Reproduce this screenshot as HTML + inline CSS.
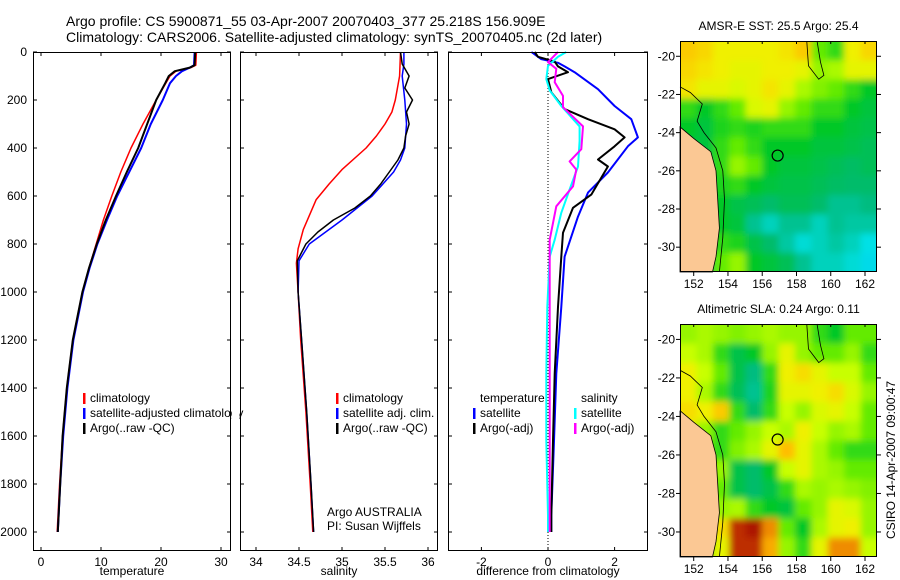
<!DOCTYPE html>
<html><head><meta charset="utf-8">
<style>
body{margin:0;background:#fff;}
svg{display:block;font-family:"Liberation Sans",sans-serif;}
text{font-size:12px;fill:#000;}
</style></head>
<body>
<svg id="fig" width="900" height="580" viewBox="0 0 900 580" xmlns="http://www.w3.org/2000/svg">
<defs>
<filter id="blur" x="-5%" y="-5%" width="110%" height="110%"><feGaussianBlur stdDeviation="3.5"/></filter>
<clipPath id="clipTop"><rect x="680" y="41" width="197" height="231"/></clipPath>
<clipPath id="clipBot"><rect x="680" y="324" width="197" height="233"/></clipPath>
</defs>
<rect width="900" height="580" fill="#fff"/>
<text x="66" y="26" style="font-size:14px">Argo profile: CS 5900871_55 03-Apr-2007 20070403_377 25.218S 156.909E</text>
<text x="66" y="42" style="font-size:14px">Climatology: CARS2006. Satellite-adjusted climatology: synTS_20070405.nc (2d later)</text>
<g id="g"></g>
</svg>
<script>
// ---------- data ----------
const depthTicks=[0,200,400,600,800,1000,1200,1400,1600,1800,2000];
const tempTicks=[0,10,20,30];
const salTicks=[34,34.5,35,35.5,36];
const diffTicks=[-2,0,2];
const tempClimD=[0,55,65,80,100,130,200,300,400,500,600,700,800,900,1000,1200,1400,1600,1800,2000];
const tempClim=[25.9,25.8,25.0,22.5,21.5,20.8,19.2,17.0,15.0,13.3,11.8,10.4,9.2,8.0,6.9,5.3,4.3,3.6,3.1,2.7];
const tempSatD=[0,55,65,80,100,130,200,300,400,500,600,700,800,900,1000,1200,1400,1600,1800,2000];
const tempSat=[25.6,25.5,24.8,23.5,22.5,21.5,20.3,18.3,16.7,14.7,12.7,11.0,9.4,8.1,7.0,5.4,4.4,3.7,3.2,2.8];
const tempArgoD=[0,55,65,80,100,130,200,300,400,500,600,700,800,900,1000,1200,1400,1600,1800,2000];
const tempArgo=[25.7,25.6,24.8,22.3,21.3,20.7,19.2,17.7,16.2,14.3,12.5,10.8,9.3,8.0,6.9,5.3,4.3,3.6,3.2,2.8];
const salClimD=[0,100,200,250,300,350,400,490,550,615,740,820,880,1000,1200,1500,1800,2000];
const salClim=[35.68,35.67,35.62,35.58,35.5,35.4,35.28,35.0,34.85,34.7,34.55,34.49,34.47,34.49,34.52,34.58,34.63,34.66];
const salSatD=[0,50,100,200,300,400,450,500,600,700,800,870,1000,1200,1500,1800,2000];
const salSat=[35.72,35.72,35.7,35.73,35.75,35.73,35.68,35.6,35.35,35.0,34.62,34.5,34.49,34.53,34.59,34.64,34.67];
const salArgoD=[0,50,100,150,200,250,300,350,400,450,500,550,600,650,700,750,800,870,1000,1200,1500,1800,2000];
const salArgo=[35.68,35.7,35.78,35.73,35.82,35.75,35.78,35.74,35.72,35.65,35.55,35.45,35.33,35.15,34.9,34.72,34.58,34.48,34.49,34.53,34.59,34.64,34.67];
const dTempSatD=[0,30,45,60,84,155,225,280,356,393,502,586,686,853,1062,1340,1620,1930,2000];
const dTempSat=[-0.5,-0.2,0.3,0.5,0.8,1.5,2.0,2.5,2.7,2.4,1.8,1.2,0.9,0.5,0.4,0.25,0.18,0.1,0.1];
const dTempArgoD=[0,20,40,60,84,113,168,238,280,322,356,393,448,477,594,649,753,853,1062,1340,1620,1930,2000];
const dTempArgo=[-0.4,-0.3,0.2,0.3,0.6,0.0,0.1,0.5,1.2,2.0,2.3,2.0,1.5,1.8,1.3,0.75,0.45,0.4,0.3,0.2,0.15,0.1,0.1];
const dSalSatD=[0,20,58,113,160,225,310,370,477,573,670,782,853,1062,1340,1620,1930,2000];
const dSalSat=[0.55,0.3,0.0,-0.05,0.05,0.4,0.95,0.95,0.9,0.65,0.4,0.2,0.05,-0.02,-0.05,-0.05,0.0,0.0];
const dSalArgoD=[0,42,70,126,183,230,310,405,456,490,560,643,782,1062,1340,1620,1930,2000];
const dSalArgo=[0.3,0.0,0.25,0.2,0.45,0.45,1.05,1.0,0.65,0.85,0.75,0.25,0.05,0.05,0.05,0.05,0.05,0.05];
const lonTicks=[152,154,156,158,160,162];
const latTicks=[-20,-22,-24,-26,-28,-30];
const sstGrid=[
[.78,.76,.72,.72,.72,.72,.74,.78,.55,.5,.72,.76],
[.76,.74,.72,.70,.70,.72,.72,.70,.6,.62,.70,.70],
[.74,.70,.70,.68,.70,.74,.70,.62,.58,.55,.5,.45],
[.5,.45,.5,.55,.68,.7,.6,.55,.5,.5,.45,.42],
[.45,.42,.48,.5,.48,.5,.5,.5,.45,.45,.42,.4],
[.42,.42,.5,.55,.5,.45,.45,.45,.42,.42,.4,.38],
[.4,.4,.5,.6,.55,.45,.42,.42,.4,.38,.36,.38],
[.4,.4,.48,.5,.45,.42,.4,.4,.38,.36,.35,.35],
[.4,.4,.45,.4,.38,.35,.38,.38,.35,.3,.3,.32],
[.38,.4,.45,.42,.3,.25,.3,.3,.25,.3,.28,.28],
[.38,.4,.5,.48,.4,.35,.28,.22,.25,.28,.25,.2],
[.38,.4,.55,.6,.45,.42,.38,.3,.25,.25,.22,.18]];
const slaGrid=[
[.6,.62,.6,.58,.6,.62,.6,.6,.5,.45,.55,.55],
[.65,.62,.5,.4,.45,.6,.7,.6,.55,.55,.6,.5],
[.72,.65,.55,.4,.32,.5,.72,.75,.7,.65,.65,.55],
[.72,.62,.5,.38,.3,.48,.7,.7,.72,.75,.68,.6],
[.75,.72,.78,.5,.35,.5,.65,.6,.68,.7,.65,.55],
[.7,.6,.5,.55,.6,.65,.62,.72,.65,.6,.62,.55],
[.65,.55,.5,.58,.62,.7,.8,.7,.62,.55,.5,.5],
[.6,.55,.6,.4,.35,.45,.65,.7,.62,.6,.55,.55],
[.6,.58,.55,.4,.35,.4,.5,.62,.6,.62,.6,.58],
[.6,.6,.6,.62,.5,.45,.42,.55,.6,.7,.68,.6],
[.55,.6,.75,.95,.98,.85,.55,.45,.62,.7,.72,.6],
[.5,.55,.7,.95,.95,.82,.6,.5,.7,.85,.85,.65]];
const coastLon=[151.2,152.0,153.0,153.3,153.4,153.5,153.3,153.1];
const coastLat=[-23.7,-24.3,-25.0,-26.0,-27.5,-29.0,-30.5,-31.3];
const floatLon=156.9, floatLat=-25.2;

// ---------- drawing ----------
const NS="http://www.w3.org/2000/svg";
const G=document.getElementById('g');
function mk(tag,attrs,parent){const e=document.createElementNS(NS,tag);for(const k in attrs)e.setAttribute(k,attrs[k]);(parent||G).appendChild(e);return e;}
const TOP=52,BOT=551;
const yD=d=>TOP+d*0.24;
const panels=[
 {x0:33,x1:231,sx:v=>41+6*v,ticks:tempTicks,title:'temperature',name:'temperature-panel'},
 {x0:240,x1:438,sx:v=>256+86*(v-34),ticks:salTicks,title:'salinity',name:'salinity-panel'},
 {x0:448,x1:648,sx:v=>548+33.3*v,ticks:diffTicks,title:'difference from climatology',name:'difference-panel'}];
function line(p,ds,vs,color,w,name){
  const pts=ds.map((d,i)=>p.sx(vs[i]).toFixed(1)+','+yD(d).toFixed(1)).join(' ');
  const e=mk('polyline',{points:pts,fill:'none',stroke:color,'stroke-width':w,'stroke-linejoin':'round'});
  
  
}
panels.forEach((p,pi)=>{
  const r=mk('rect',{x:p.x0,y:TOP,width:p.x1-p.x0,height:BOT-TOP,fill:'#fff',stroke:'none'});
  
  
  if(pi===2){const z=mk('line',{x1:p.sx(0),x2:p.sx(0),y1:TOP,y2:BOT,stroke:'#000','stroke-dasharray':'1,2','stroke-width':1});
    
    }
  if(pi===0){
    line(p,tempClimD,tempClim,'#f00',1.5,'temp-climatology-line');
    line(p,tempSatD,tempSat,'#00f',2,'temp-satellite-line');
    line(p,tempArgoD,tempArgo,'#000',2,'temp-argo-line');
  } else if(pi===1){
    line(p,salClimD,salClim,'#f00',1.5,'sal-climatology-line');
    line(p,salSatD,salSat,'#00f',1.5,'sal-satellite-line');
    line(p,salArgoD,salArgo,'#000',1.5,'sal-argo-line');
  } else {
    line(p,dTempSatD,dTempSat,'#00f',2,'diff-temp-satellite-line');
    line(p,dTempArgoD,dTempArgo,'#000',2,'diff-temp-argo-line');
    line(p,dSalSatD,dSalSat,'#0ff',2,'diff-sal-satellite-line');
    line(p,dSalArgoD,dSalArgo,'#f0f',2,'diff-sal-argo-line');
  }
  p.ticks.forEach(t=>{const x=p.sx(t);
    mk('line',{x1:x,x2:x,y1:BOT,y2:BOT-4,stroke:'#000'});
    mk('line',{x1:x,x2:x,y1:TOP,y2:TOP+4,stroke:'#000'});
    const tx=mk('text',{x:x,y:BOT+15,'text-anchor':'middle'});tx.textContent=t;
    
    
  });
  depthTicks.forEach(d=>{const y=yD(d);
    mk('line',{x1:p.x0,x2:p.x0+4,y1:y,y2:y,stroke:'#000'});
    mk('line',{x1:p.x1,x2:p.x1-4,y1:y,y2:y,stroke:'#000'});
    if(pi===0){const tx=mk('text',{x:27,y:y+4,'text-anchor':'end'});tx.textContent=d;
      
      }
  });
  const fr=mk('rect',{x:p.x0+0.5,y:TOP+0.5,width:p.x1-p.x0-1,height:BOT-TOP-1,fill:'none',stroke:'#000'});
  
  
  const at=mk('text',{x:(p.x0+p.x1)/2,y:575,'text-anchor':'middle'});at.textContent=p.title;
  
  
});
function legend(x,y,items,name){
  items.forEach((it,i)=>{const yy=y+i*15;
    if(it[1])mk('rect',{x:x,y:yy-9,width:2.5,height:11,fill:it[1]});
    const t=mk('text',{x:x+7,y:yy});t.textContent=it[0];
    
    
  });
}
legend(83,402,[['climatology','#f00'],['satellite-adjusted climatology','#00f'],['Argo(..raw -QC)','#000']],'temp-legend');
legend(336,402,[['climatology','#f00'],['satellite adj. clim.','#00f'],['Argo(..raw -QC)','#000']],'sal-legend');
legend(473,402,[['temperature',null],['satellite','#00f'],['Argo(-adj)','#000']],'diff-temp-legend');
legend(574,402,[['salinity',null],['satellite','#0ff'],['Argo(-adj)','#f0f']],'diff-sal-legend');
mk('rect',{x:232,y:390,width:7.5,height:45,fill:'#fff'});
mk('line',{x1:240.5,x2:240.5,y1:390,y2:435,stroke:'#000'});
const a1=mk('text',{x:327,y:516});a1.textContent='Argo AUSTRALIA';


const a2=mk('text',{x:327,y:530});a2.textContent='PI: Susan Wijffels';



// ---------- maps ----------
const stops=[[0,[0,150,255]],[0.2,[0,225,230]],[0.33,[0,185,120]],[0.45,[0,200,40]],[0.55,[100,235,0]],[0.65,[200,255,0]],[0.72,[240,240,0]],[0.8,[255,190,0]],[0.88,[230,110,0]],[1,[160,0,0]]];
function cmap(v){for(let i=1;i<stops.length;i++){if(v<=stops[i][0]){const a=stops[i-1],b=stops[i];const f=(v-a[0])/(b[0]-a[0]);
  return 'rgb('+a[1].map((c,k)=>Math.round(c+(b[1][k]-c)*f)).join(',')+')';}}return 'rgb(160,0,0)';}
const LON0=151.2,LON1=162.7,LAT0=-19.2,LAT1=-31.3;
function map(top,bottom,grid,title,name,clip){
  const x0=680,x1=877;
  const lx=l=>x0+(l-LON0)/(LON1-LON0)*(x1-x0);
  const ly=l=>top+(LAT0-l)/(LAT0-LAT1)*(bottom-top);
  const rows=grid.length,cols=grid[0].length;
  const cw=(x1-x0)/cols,ch=(bottom-top)/rows;
  const cg=mk('g',{'clip-path':'url(#'+clip+')'});
  const bg=mk('g',{filter:'url(#blur)'},cg);
  grid.forEach((row,r)=>row.forEach((v,c)=>{
    let x=x0+c*cw,y=top+r*ch,w=cw+0.6,h=ch+0.6;
    if(c===0){x-=8;w+=8;} if(c===cols-1){w+=8;}
    if(r===0){y-=8;h+=8;} if(r===rows-1){h+=8;}
    const e=mk('rect',{x:x.toFixed(2),y:y.toFixed(2),width:w.toFixed(2),height:h.toFixed(2),fill:cmap(v)},bg);
    
    
  }));
  let d='M'+x0+','+ly(coastLat[0]);
  coastLon.forEach((l,i)=>{d+=' L'+lx(l).toFixed(1)+','+ly(coastLat[i]).toFixed(1);});
  d+=' L'+x0+','+bottom+' Z';
  const land=mk('path',{d:d,fill:'#fbc894',stroke:'#000','stroke-width':0.8});
  
  
  let d2='M'+x0+','+ly(-21.6);
  const offLon=[151.8,152.5,152.2,152.6,153.3,153.7,153.8,153.7,153.5];
  const offLat=[-21.9,-22.5,-23.4,-24.0,-24.8,-26.0,-27.5,-29.5,-31.3];
  offLon.forEach((l,i)=>{d2+=' L'+lx(l).toFixed(1)+','+ly(offLat[i]).toFixed(1);});
  const iso=mk('path',{d:d2,fill:'none',stroke:'#000','stroke-width':0.8});
  
  
  const reef=mk('path',{d:'M'+lx(158.6)+','+top+' L'+lx(158.7)+','+ly(-20.5)+' L'+lx(159.3)+','+ly(-21.2)+' L'+lx(159.6)+','+ly(-21.0)+' L'+lx(159.4)+','+ly(-20.3)+' L'+lx(159.2)+','+top,fill:'none',stroke:'#000','stroke-width':0.8});
  
  
  const c=mk('circle',{cx:lx(floatLon),cy:ly(floatLat),r:5.5,fill:'none',stroke:'#000','stroke-width':1.2});
  
  
  const fr=mk('rect',{x:x0+0.5,y:top+0.5,width:x1-x0-1,height:bottom-top-1,fill:'none',stroke:'#000'});
  
  
  lonTicks.forEach(l=>{const x=lx(l);
    mk('line',{x1:x,x2:x,y1:bottom,y2:bottom+4,stroke:'#000'});
    mk('line',{x1:x,x2:x,y1:top,y2:top+3,stroke:'#000'});
    const t=mk('text',{x:x,y:bottom+16,'text-anchor':'middle'});t.textContent=l;
    
    
  });
  latTicks.forEach(l=>{const y=ly(l);
    mk('line',{x1:x0-4,x2:x0,y1:y,y2:y,stroke:'#000'});
    mk('line',{x1:x1,x2:x1+4,y1:y,y2:y,stroke:'#000'});
    const t=mk('text',{x:x0-5,y:y+4,'text-anchor':'end'});t.textContent=l;
    
    
  });
  const tt=mk('text',{x:(x0+x1)/2,y:top-11,'text-anchor':'middle'});tt.textContent=title;
  
  
}
map(41,272,sstGrid,'AMSR-E SST: 25.5 Argo: 25.4','sst-map','clipTop');
map(324,557,slaGrid,'Altimetric SLA: 0.24 Argo: 0.11','sla-map','clipBot');
const cs=mk('text',{x:0,y:0,'text-anchor':'middle',transform:'translate(895,460) rotate(-90)'});
cs.textContent='CSIRO 14-Apr-2007 09:00:47';


</script>
</body></html>
